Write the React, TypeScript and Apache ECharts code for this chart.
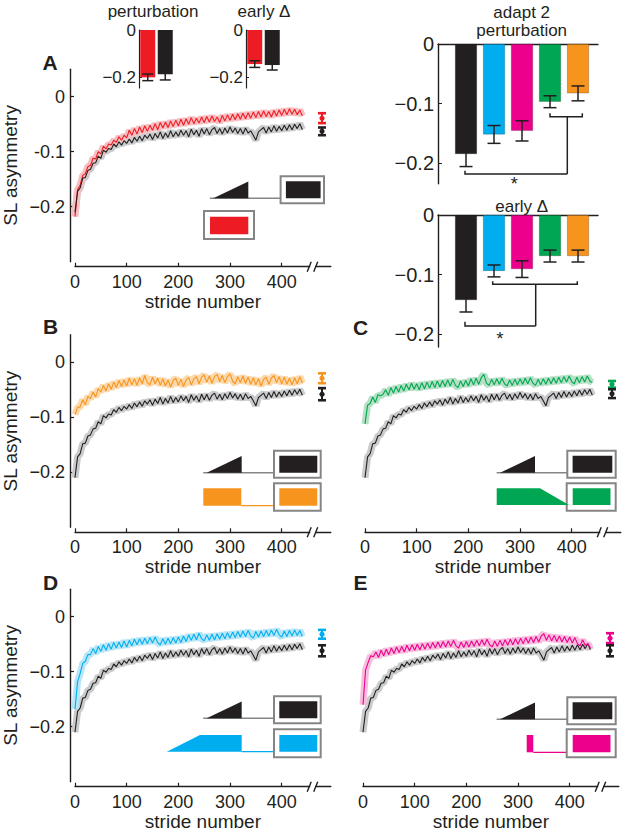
import React, { useEffect, useRef } from "react";
import * as echarts from "echarts";

// ---------- DATA ----------
const STRIDE_STEP = 5; // samples read every 5 strides, 0..440
const xTicks = [0, 100, 200, 300, 400];
const yTicksLine = [-0.2, -0.1, 0];

// control (ramp) adaptation curve, shown in black in every panel
const blackAdapt = [
  -0.21, -0.172, -0.166, -0.148, -0.147, -0.134, -0.132, -0.121, -0.12, -0.108,
  -0.112, -0.097, -0.101, -0.094, -0.096, -0.086, -0.091, -0.082, -0.088, -0.08,
  -0.085, -0.077, -0.084, -0.074, -0.081, -0.072, -0.08, -0.07, -0.076, -0.068,
  -0.078, -0.067, -0.075, -0.064, -0.076, -0.066, -0.074, -0.062, -0.073, -0.064,
  -0.072, -0.061, -0.07, -0.062, -0.073, -0.059, -0.069, -0.061, -0.072, -0.058,
  -0.068, -0.058, -0.069, -0.06, -0.056, -0.067, -0.058, -0.068, -0.057, -0.066,
  -0.055, -0.065, -0.057, -0.067, -0.058, -0.068, -0.057, -0.066, -0.062, -0.07,
  -0.079, -0.064, -0.06, -0.056, -0.066, -0.055, -0.064, -0.053, -0.063, -0.054,
  -0.062, -0.052, -0.061, -0.051, -0.06, -0.05, -0.058, -0.049, -0.06,
];
const redAdapt = [
  -0.218, -0.169, -0.161, -0.143, -0.14, -0.127, -0.125, -0.112, -0.113, -0.1,
  -0.104, -0.09, -0.095, -0.086, -0.088, -0.079, -0.083, -0.073, -0.079, -0.07,
  -0.075, -0.061, -0.07, -0.058, -0.068, -0.055, -0.065, -0.053, -0.063, -0.052,
  -0.061, -0.049, -0.06, -0.047, -0.057, -0.046, -0.056, -0.044, -0.054, -0.043,
  -0.053, -0.041, -0.052, -0.04, -0.05, -0.038, -0.049, -0.039, -0.048, -0.037,
  -0.047, -0.036, -0.046, -0.035, -0.045, -0.037, -0.047, -0.034, -0.044, -0.033,
  -0.043, -0.032, -0.042, -0.031, -0.041, -0.03, -0.04, -0.029, -0.039, -0.028,
  -0.038, -0.027, -0.037, -0.026, -0.036, -0.027, -0.037, -0.025, -0.035, -0.024,
  -0.034, -0.023, -0.033, -0.022, -0.032, -0.023, -0.033, -0.024, -0.035,
];
const orangeAdapt = [
  -0.095, -0.082, -0.081, -0.068, -0.077, -0.062, -0.066, -0.054, -0.063, -0.048,
  -0.054, -0.042, -0.052, -0.039, -0.049, -0.036, -0.046, -0.033, -0.044, -0.032,
  -0.043, -0.029, -0.041, -0.03, -0.042, -0.028, -0.039, -0.024, -0.037, -0.041,
  -0.027, -0.039, -0.029, -0.042, -0.03, -0.043, -0.032, -0.045, -0.033, -0.029,
  -0.042, -0.031, -0.044, -0.032, -0.028, -0.041, -0.03, -0.026, -0.039, -0.027,
  -0.023, -0.036, -0.025, -0.038, -0.026, -0.022, -0.035, -0.024, -0.037, -0.026,
  -0.021, -0.034, -0.039, -0.026, -0.037, -0.025, -0.038, -0.027, -0.04, -0.028,
  -0.041, -0.03, -0.043, -0.031, -0.027, -0.04, -0.029, -0.024, -0.037, -0.026,
  -0.039, -0.027, -0.04, -0.029, -0.041, -0.028, -0.039, -0.026, -0.038,
];
const greenAdapt = [
  -0.112, -0.078, -0.075, -0.063, -0.073, -0.059, -0.061, -0.058, -0.05, -0.06,
  -0.046, -0.056, -0.044, -0.054, -0.042, -0.052, -0.04, -0.05, -0.038, -0.049,
  -0.039, -0.05, -0.037, -0.048, -0.036, -0.047, -0.035, -0.046, -0.034, -0.045,
  -0.033, -0.044, -0.032, -0.043, -0.031, -0.042, -0.046, -0.034, -0.044, -0.033,
  -0.043, -0.03, -0.041, -0.029, -0.04, -0.028, -0.022, -0.038, -0.042, -0.031,
  -0.041, -0.03, -0.04, -0.029, -0.039, -0.043, -0.032, -0.042, -0.031, -0.041,
  -0.03, -0.04, -0.029, -0.039, -0.028, -0.038, -0.042, -0.031, -0.041, -0.03,
  -0.04, -0.029, -0.039, -0.028, -0.038, -0.027, -0.037, -0.026, -0.036, -0.025,
  -0.035, -0.039, -0.027, -0.037, -0.026, -0.036, -0.025, -0.034, -0.037,
];
const blueAdapt = [
  -0.168, -0.118, -0.103, -0.085, -0.081, -0.069, -0.069, -0.058, -0.067, -0.054,
  -0.063, -0.051, -0.061, -0.049, -0.059, -0.047, -0.057, -0.046, -0.056, -0.044,
  -0.055, -0.043, -0.053, -0.041, -0.051, -0.04, -0.05, -0.039, -0.049, -0.038,
  -0.048, -0.037, -0.047, -0.051, -0.04, -0.05, -0.039, -0.049, -0.038, -0.048,
  -0.037, -0.047, -0.035, -0.045, -0.033, -0.043, -0.032, -0.042, -0.03, -0.04,
  -0.044, -0.033, -0.043, -0.032, -0.042, -0.031, -0.041, -0.03, -0.04, -0.029,
  -0.039, -0.028, -0.038, -0.027, -0.037, -0.026, -0.036, -0.025, -0.035, -0.039,
  -0.027, -0.037, -0.026, -0.036, -0.025, -0.035, -0.024, -0.034, -0.023, -0.033,
  -0.037, -0.026, -0.036, -0.025, -0.035, -0.024, -0.034, -0.025, -0.036,
];
const magentaAdapt = [
  -0.16, -0.097, -0.083, -0.071, -0.073, -0.064, -0.074, -0.061, -0.071, -0.059,
  -0.069, -0.057, -0.067, -0.055, -0.065, -0.054, -0.064, -0.052, -0.062, -0.051,
  -0.061, -0.05, -0.06, -0.049, -0.059, -0.048, -0.058, -0.047, -0.057, -0.046,
  -0.056, -0.045, -0.055, -0.044, -0.054, -0.043, -0.053, -0.057, -0.046, -0.056,
  -0.045, -0.055, -0.044, -0.054, -0.043, -0.053, -0.042, -0.052, -0.041, -0.051,
  -0.055, -0.044, -0.054, -0.043, -0.053, -0.042, -0.052, -0.041, -0.051, -0.04,
  -0.05, -0.039, -0.049, -0.038, -0.048, -0.037, -0.047, -0.036, -0.046, -0.035,
  -0.031, -0.043, -0.033, -0.044, -0.034, -0.045, -0.035, -0.046, -0.036, -0.047,
  -0.037, -0.048, -0.038, -0.049, -0.053, -0.042, -0.052, -0.049, -0.057,
];

// late-adaptation markers (after the axis break): [group, control]
const lateStride = 478;
const lateA = [-0.039, -0.063];
const lateAErr = [0.009, 0.007];
const lateB = [-0.029, -0.058];
const lateBErr = [0.009, 0.011];
const lateC = [-0.04, -0.057];
const lateCErr = [0.006, 0.008];
const lateD = [-0.032, -0.062];
const lateDErr = [0.008, 0.01];
const lateE = [-0.039, -0.062];
const lateEErr = [0.009, 0.01];

// inset bars of panel A: [red group, black control]
const insetPert = [-0.2, -0.187];
const insetPertErr = [0.014, 0.024];
const insetEarly = [-0.144, -0.148];
const insetEarlyErr = [0.014, 0.021];

// right-hand bar charts: black, blue, magenta, green, orange
const adapt2Pert = [-0.185, -0.152, -0.146, -0.097, -0.083];
const adapt2PertErr = [0.021, 0.015, 0.017, 0.01, 0.0125];
const earlyDelta = [-0.143, -0.094, -0.091, -0.069, -0.069];
const earlyDeltaErr = [0.02, 0.01, 0.014, 0.01, 0.01];

// ---------- STYLE ----------
const C = {
  black: "#231f20",
  red: "#ed1c24",
  orange: "#f7941d",
  green: "#00a651",
  blue: "#00aeef",
  magenta: "#ec008c",
  gray: "#858585",
};
const BAND = {
  black: "#c9cbcc",
  red: "#f7bfc1",
  orange: "#fcd9ad",
  green: "#b5e0c5",
  blue: "#b8e6f7",
  magenta: "#f7bddd",
};
const FONT = "Liberation Sans";
const GW = 255.8;
const GH = 192.5;
const XMAX = 495;

const pts = (arr: number[]) => arr.map((v, i) => [i * STRIDE_STEP, v]);

const minusFmt = (hyphenFor?: number) => (v: number) => {
  if (Math.abs(v) < 1e-9) return "0";
  const s = Math.abs(v).toFixed(1);
  if (hyphenFor !== undefined && Math.abs(v - hyphenFor) < 1e-9) return "-" + s;
  return "\u2212" + s;
};

function errorSeries(
  gridIndex: number,
  data: number[][],
  colors: string[],
  capW: number,
  stemW: number,
  capLW: number,
  dot: number
) {
  return {
    type: "custom",
    xAxisIndex: gridIndex,
    yAxisIndex: gridIndex,
    silent: true,
    z: 10,
    data,
    renderItem: (params: any, api: any) => {
      const x = api.value(0);
      const y = api.value(1);
      const e = api.value(2);
      const col = colors[params.dataIndex];
      const top = api.coord([x, y + e]);
      const bot = api.coord([x, y - e]);
      const mid = api.coord([x, y]);
      const hw = capW / 2;
      const children: any[] = [
        { type: "line", shape: { x1: top[0], y1: top[1], x2: bot[0], y2: bot[1] }, style: { stroke: col, lineWidth: stemW } },
        { type: "line", shape: { x1: top[0] - hw, y1: top[1], x2: top[0] + hw, y2: top[1] }, style: { stroke: col, lineWidth: capLW } },
        { type: "line", shape: { x1: bot[0] - hw, y1: bot[1], x2: bot[0] + hw, y2: bot[1] }, style: { stroke: col, lineWidth: capLW } },
      ];
      if (dot > 0) children.push({ type: "circle", shape: { cx: mid[0], cy: mid[1], r: dot }, style: { fill: col } });
      return { type: "group", children };
    },
  };
}

type Panel = {
  left: number;
  top: number;
  color: keyof typeof BAND;
  data: number[];
  late: number[];
  lateErr: number[];
  showY: boolean;
  hyphen?: number;
  blackOnTop: boolean;
};

const panels: Panel[] = [
  { left: 75, top: 69.2, color: "red", data: redAdapt, late: lateA, lateErr: lateAErr, showY: true, hyphen: -0.1, blackOnTop: true },
  { left: 75, top: 334.8, color: "orange", data: orangeAdapt, late: lateB, lateErr: lateBErr, showY: true, blackOnTop: false },
  { left: 365, top: 334.8, color: "green", data: greenAdapt, late: lateC, lateErr: lateCErr, showY: false, blackOnTop: false },
  { left: 75, top: 589.2, color: "blue", data: blueAdapt, late: lateD, lateErr: lateDErr, showY: true, blackOnTop: false },
  { left: 363, top: 589.2, color: "magenta", data: magentaAdapt, late: lateE, lateErr: lateEErr, showY: false, blackOnTop: false },
];

function buildOption() {
  const grid: any[] = [];
  const xAxis: any[] = [];
  const yAxis: any[] = [];
  const series: any[] = [];
  const graphics: any[] = [];

  panels.forEach((p, i) => {
    grid.push({ left: p.left, top: p.top, width: GW, height: GH });
    xAxis.push({
      gridIndex: i,
      type: "value",
      min: 0,
      max: XMAX,
      position: "bottom",
      offset: 5,
      axisLine: { show: true, onZero: false, lineStyle: { color: C.black, width: 1.4 } },
      axisTick: { show: true, inside: true, length: 4, customValues: xTicks, lineStyle: { color: C.black, width: 1.2 } },
      axisLabel: { show: true, customValues: xTicks, fontSize: 18, color: C.black, margin: 6, fontFamily: FONT },
      splitLine: { show: false },
      name: "stride number",
      nameLocation: "middle",
      nameGap: 25,
      nameTextStyle: { fontSize: 19, color: C.black, fontFamily: FONT },
    });
    if (p.showY) {
      yAxis.push({
        gridIndex: i,
        type: "value",
        min: -0.3,
        max: 0.05,
        offset: 5,
        axisLine: { show: true, onZero: false, lineStyle: { color: C.black, width: 1.4 } },
        axisTick: { show: true, inside: true, length: 4, customValues: yTicksLine, lineStyle: { color: C.black, width: 1.2 } },
        axisLabel: { show: true, customValues: yTicksLine, fontSize: 18, color: C.black, margin: 5, fontFamily: FONT, formatter: minusFmt(p.hyphen) },
        splitLine: { show: false },
        name: "SL asymmetry",
        nameLocation: "middle",
        nameGap: 50,
        nameTextStyle: { fontSize: 19, color: C.black, fontFamily: FONT },
      });
    } else {
      yAxis.push({ gridIndex: i, type: "value", min: -0.3, max: 0.05, show: false, splitLine: { show: false } });
    }

    const base = { type: "line", xAxisIndex: i, yAxisIndex: i, showSymbol: false, silent: true, clip: true };
    series.push({ ...base, data: pts(blackAdapt), lineStyle: { color: BAND.black, width: 7 }, z: 1 });
    series.push({ ...base, data: pts(p.data), lineStyle: { color: BAND[p.color], width: 7 }, z: 1 });
    const blackLine = { ...base, data: pts(blackAdapt), lineStyle: { color: C.black, width: 1.1 }, z: 3 };
    const colLine = { ...base, data: pts(p.data), lineStyle: { color: (C as any)[p.color], width: 1.1 }, z: 3 };
    if (p.blackOnTop) series.push(colLine, blackLine);
    else series.push(blackLine, colLine);
    series.push(
      errorSeries(
        i,
        [
          [lateStride, p.late[0], p.lateErr[0]],
          [lateStride, p.late[1], p.lateErr[1]],
        ],
        [(C as any)[p.color], C.black],
        8,
        2,
        2.6,
        2.6
      )
    );

    // axis break "//"
    const bx = p.left + (460 / XMAX) * GW;
    const by = p.top + GH + 5;
    graphics.push(
      { type: "rect", z: 100, shape: { x: bx - 2.5, y: by - 3, width: 5, height: 6 }, style: { fill: "#fff" } },
      { type: "line", z: 101, shape: { x1: bx - 5.5, y1: by + 5, x2: bx - 1.5, y2: by - 5 }, style: { stroke: C.black, lineWidth: 1.4 } },
      { type: "line", z: 101, shape: { x1: bx + 1, y1: by + 5, x2: bx + 5, y2: by - 5 }, style: { stroke: C.black, lineWidth: 1.4 } }
    );
  });

  // inset bars (grids 5,6)
  const insets = [
    { left: 139, vals: insetPert, errs: insetPertErr },
    { left: 246, vals: insetEarly, errs: insetEarlyErr },
  ];
  insets.forEach((ins, k) => {
    const gi = 5 + k;
    grid.push({ left: ins.left, top: 30, width: 35, height: 58 });
    xAxis.push({ gridIndex: gi, type: "value", min: 0, max: 2, show: false, splitLine: { show: false } });
    yAxis.push({
      gridIndex: gi,
      type: "value",
      min: -0.245,
      max: 0,
      axisLine: { show: true, onZero: false, lineStyle: { color: C.black, width: 1.2 } },
      axisTick: { show: true, inside: true, length: 3, customValues: [-0.2, 0], lineStyle: { color: C.black } },
      axisLabel: { show: true, customValues: [-0.2, 0], fontSize: 17, color: C.black, margin: 3, fontFamily: FONT, formatter: minusFmt() },
      splitLine: { show: false },
    });
    const cols = [C.red, C.black];
    series.push({
      type: "bar",
      xAxisIndex: gi,
      yAxisIndex: gi,
      barWidth: 15,
      silent: true,
      data: ins.vals.map((v, j) => ({ value: [0.5 + j, v], itemStyle: { color: cols[j] } })),
    });
    series.push(errorSeries(gi, ins.vals.map((v, j) => [0.5 + j, v, ins.errs[j]]), [C.black, C.black], 11, 1.5, 1.5, 0));
  });

  // right-hand bar charts (grids 7,8)
  const rightCharts = [
    { top: 44, min: -0.235, vals: adapt2Pert, errs: adapt2PertErr },
    { top: 215, min: -0.222, vals: earlyDelta, errs: earlyDeltaErr },
  ];
  const barCols = [C.black, C.blue, C.magenta, C.green, C.orange];
  rightCharts.forEach((rc, k) => {
    const gi = 7 + k;
    grid.push({ left: 438, top: rc.top, width: 160, height: -rc.min * 595 });
    xAxis.push({
      gridIndex: gi,
      type: "value",
      min: 0,
      max: 5.714,
      position: "top",
      axisLine: { show: true, onZero: false, lineStyle: { color: C.black, width: 1.4 } },
      axisTick: { show: false },
      axisLabel: { show: false },
      splitLine: { show: false },
    });
    yAxis.push({
      gridIndex: gi,
      type: "value",
      min: rc.min,
      max: 0,
      axisLine: { show: true, onZero: false, lineStyle: { color: C.black, width: 1.4 } },
      axisTick: { show: true, inside: true, length: 4, customValues: yTicksLine, lineStyle: { color: C.black } },
      axisLabel: { show: true, customValues: yTicksLine, fontSize: 20, color: C.black, margin: 4, fontFamily: FONT, formatter: minusFmt() },
      splitLine: { show: false },
    });
    series.push({
      type: "bar",
      xAxisIndex: gi,
      yAxisIndex: gi,
      barWidth: 22,
      silent: true,
      data: rc.vals.map((v, j) => ({ value: [1 + j, v], itemStyle: { color: barCols[j], borderColor: "rgba(0,0,0,0.35)", borderWidth: 0.6 } })),
    });
    series.push(errorSeries(gi, rc.vals.map((v, j) => [1 + j, v, rc.errs[j]]), barCols.map(() => C.black), 13, 1.5, 1.5, 0));
  });

  // ---------- annotations ----------
  const txt = (text: string, x: number, y: number, size: number, bold = false) => ({
    type: "text",
    z: 100,
    x,
    y,
    style: {
      text,
      fill: C.black,
      fontSize: size,
      fontFamily: FONT,
      fontWeight: bold ? "bold" : "normal",
      align: "center",
      verticalAlign: "middle",
      textAlign: "center",
      textVerticalAlign: "middle",
    },
  });
  graphics.push(
    txt("A", 50, 62, 21, true),
    txt("B", 50.5, 326, 21, true),
    txt("C", 360.5, 327, 21, true),
    txt("D", 50.5, 582, 21, true),
    txt("E", 360.5, 582, 21, true),
    txt("perturbation", 153, 11, 17),
    txt("early \u0394", 264, 11, 17),
    txt("adapt 2", 521.7, 12, 17),
    txt("perturbation", 521.7, 30, 17),
    txt("early \u0394", 521.7, 206, 17),
    txt("*", 514.3, 184, 18),
    txt("*", 500, 339, 18)
  );
  const pl = (points: number[][]) => ({ type: "polyline", z: 100, shape: { points }, style: { stroke: C.black, lineWidth: 1.5, fill: null } });
  graphics.push(
    pl([[550, 113.3], [550, 116.7], [582.3, 116.7], [582.3, 113.3]]),
    pl([[567.3, 116.7], [567.3, 174]]),
    pl([[465, 170.7], [465, 174], [567.3, 174]]),
    pl([[492.7, 281.2], [492.7, 284.3], [577.3, 284.3], [577.3, 281.2]]),
    pl([[535.7, 284.3], [535.7, 326]]),
    pl([[465, 321.7], [465, 326], [535.7, 326]])
  );

  // schematics (paradigm icons)
  const poly = (points: number[][], fill: string) => ({ type: "polygon", z: 100, shape: { points }, style: { fill } });
  const rect = (x1: number, y1: number, x2: number, y2: number, fill: string) => ({
    type: "rect", z: 100, shape: { x: x1, y: y1, width: x2 - x1, height: y2 - y1 }, style: { fill },
  });
  const box = (x1: number, y1: number, x2: number, y2: number) => ({
    type: "rect", z: 99, shape: { x: x1, y: y1, width: x2 - x1, height: y2 - y1 }, style: { fill: "#fff", stroke: C.gray, lineWidth: 2 },
  });
  const ln = (x1: number, y1: number, x2: number, y2: number, stroke: string, w = 1.5) => ({
    type: "line", z: 98, shape: { x1, y1, x2, y2 }, style: { stroke, lineWidth: w },
  });
  const rampRow = (ox: number, oy: number, boxR: number) => [
    ln(ox - 3.4, oy, ox + 67.3, oy, C.gray),
    poly([[ox, oy], [ox + 35, oy - 16.7], [ox + 35, oy]], C.black),
    box(ox + 67.3, oy - 22, boxR, oy + 5),
    rect(ox + 72.6, oy - 17, boxR - 3.4, oy, C.black),
  ];
  graphics.push(
    // A
    ...rampRow(213.3, 198.3, 324),
    box(204, 211, 254, 239),
    rect(210, 216.7, 248.3, 234.3, C.red),
    // B
    ...rampRow(206.7, 472.7, 320.7),
    rect(203.3, 488.3, 241.3, 505.7, C.orange),
    ln(241.3, 505.7, 279.3, 505.7, C.orange, 1.2),
    box(274, 483.3, 320.7, 510.7),
    rect(279.3, 488.3, 317.3, 505.7, C.orange),
    // C
    ...rampRow(500, 472.7, 615.7),
    poly([[496.7, 488.3], [540, 488.3], [569, 505], [496.7, 505]], C.green),
    box(566.7, 483.3, 615.7, 510.7),
    rect(572.7, 488.3, 610.5, 505, C.green),
    // D
    ...rampRow(206.7, 718.3, 320.7),
    poly([[166.7, 751.7], [200, 735], [241.7, 735], [241.7, 751.7]], C.blue),
    ln(241.7, 751.7, 279.3, 751.7, C.blue, 1.2),
    box(274, 729.3, 320.7, 757.3),
    rect(279.3, 735, 317.3, 751.7, C.blue),
    // E
    ...rampRow(500, 719.3, 615.7),
    rect(526.7, 735, 533.3, 752.3, C.magenta),
    ln(533.3, 752.3, 572.7, 752.3, C.magenta, 1.2),
    box(566.7, 729.3, 615.7, 757.3),
    rect(572.7, 735, 610.5, 752.3, C.magenta)
  );

  return {
    animation: false,
    backgroundColor: "#ffffff",
    textStyle: { fontFamily: FONT },
    grid,
    xAxis,
    yAxis,
    series,
    graphic: { elements: graphics },
  };
}

export default function App() {
  const ref = useRef<HTMLDivElement>(null);
  useEffect(() => {
    if (!ref.current) return;
    const chart = echarts.init(ref.current, undefined, { renderer: "svg" });
    chart.setOption(buildOption() as any);
    return () => chart.dispose();
  }, []);
  return (
    <div
      ref={ref}
      style={{ position: "absolute", left: 0, top: 0, width: 626, height: 833, background: "#fff" }}
    />
  );
}
